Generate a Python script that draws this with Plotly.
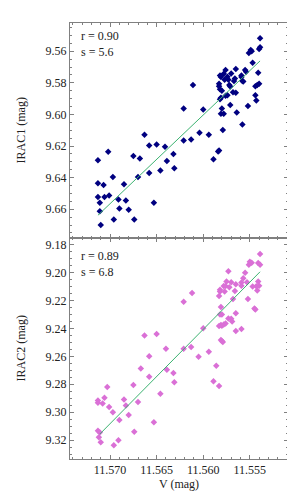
import plotly.graph_objects as go
from plotly.subplots import make_subplots

# ---- IRAC1 panel data ----
v1 = [11.5539, 11.5539, 11.5540, 11.5551, 11.5549, 11.5548, 11.5547, 11.5541, 11.5576, 11.5565,
      11.5555, 11.5554, 11.5582, 11.5581, 11.5578, 11.5574, 11.5570, 11.5559, 11.5559, 11.5577,
      11.5573, 11.5566, 11.5567, 11.5558, 11.5557, 11.5583, 11.5583, 11.5572, 11.5571, 11.5611,
      11.5540, 11.5542, 11.5544, 11.5582, 11.5580, 11.5574, 11.5576, 11.5568, 11.5565, 11.5544,
      11.5581, 11.5582, 11.5543, 11.5571, 11.5552, 11.5621, 11.5600, 11.5580, 11.5581, 11.5578,
      11.5564, 11.5558, 11.5579, 11.5594, 11.5604, 11.5613, 11.5621, 11.5663, 11.5650, 11.5658,
      11.5641, 11.5702, 11.5713, 11.5675, 11.5668, 11.5632, 11.5639, 11.5583, 11.5584, 11.5589,
      11.5631, 11.5646, 11.5658, 11.5670, 11.5697, 11.5713, 11.5707, 11.5685, 11.5713, 11.5706,
      11.5701, 11.5711, 11.5691, 11.5683, 11.5653, 11.5690, 11.5680, 11.5711, 11.5696, 11.5674,
      11.5710]
irac1 = [9.5517, 9.5575, 9.5586, 9.5611, 9.5592, 9.5600, 9.5673, 9.5736, 9.5719, 9.5713,
         9.5719, 9.5729, 9.5754, 9.5763, 9.5742, 9.5761, 9.5740, 9.5753, 9.5763, 9.5781,
         9.5781, 9.5773, 9.5788, 9.5788, 9.5792, 9.5806, 9.5821, 9.5813, 9.5823, 9.5813,
         9.5806, 9.5813, 9.5821, 9.5840, 9.5850, 9.5878, 9.5881, 9.5859, 9.5863, 9.5878,
         9.5894, 9.5904, 9.5911, 9.5940, 9.5946, 9.5963, 9.5969, 9.5963, 9.5996, 9.5996,
         9.5988, 9.6063, 9.6098, 9.6129, 9.6115, 9.6159, 9.6165, 9.6129, 9.6190, 9.6196,
         9.6204, 9.6236, 9.6290, 9.6263, 9.6279, 9.6250, 9.6294, 9.6228, 9.6234, 9.6284,
         9.6340, 9.6354, 9.6371, 9.6396, 9.6396, 9.6436, 9.6446, 9.6442, 9.6523, 9.6523,
         9.6513, 9.6559, 9.6538, 9.6544, 9.6559, 9.6596, 9.6604, 9.6613, 9.6665, 9.6665,
         9.6700]
fit1_v = [11.5713, 11.5539]
fit1_y = [9.6638, 9.5661]

# ---- IRAC2 panel data ----
v2 = [11.5539, 11.5550, 11.5548, 11.5551, 11.5541, 11.5539, 11.5573, 11.5555, 11.5557, 11.5575,
      11.5570, 11.5565, 11.5578, 11.5576, 11.5572, 11.5559, 11.5559, 11.5553, 11.5541, 11.5547,
      11.5543, 11.5540, 11.5542, 11.5582, 11.5582, 11.5577, 11.5566, 11.5583, 11.5612, 11.5552,
      11.5568, 11.5621, 11.5581, 11.5545, 11.5544, 11.5565, 11.5582, 11.5580, 11.5573, 11.5570,
      11.5569, 11.5581, 11.5580, 11.5578, 11.5576, 11.5583, 11.5565, 11.5559, 11.5600, 11.5581,
      11.5580, 11.5579, 11.5663, 11.5650, 11.5640, 11.5658, 11.5621, 11.5613, 11.5605, 11.5594,
      11.5667, 11.5639, 11.5632, 11.5658, 11.5631, 11.5675, 11.5703, 11.5646, 11.5706, 11.5713,
      11.5713, 11.5708, 11.5685, 11.5683, 11.5670, 11.5701, 11.5697, 11.5680, 11.5690, 11.5653,
      11.5713, 11.5711, 11.5712, 11.5674, 11.5710, 11.5691, 11.5696, 11.5586, 11.5589, 11.5583]
irac2 = [9.1869, 9.1925, 9.1932, 9.1946, 9.1934, 9.1946, 9.1993, 9.2003, 9.2042, 9.2066,
         9.2071, 9.2085, 9.2097, 9.2097, 9.2106, 9.2073, 9.2095, 9.2071, 9.2066, 9.2102,
         9.2099, 9.2095, 9.2130, 9.2125, 9.2137, 9.2137, 9.2134, 9.2169, 9.2148, 9.2191,
         9.2191, 9.2210, 9.2247, 9.2259, 9.2266, 9.2292, 9.2301, 9.2301, 9.2330, 9.2332,
         9.2351, 9.2377, 9.2381, 9.2372, 9.2365, 9.2384, 9.2419, 9.2405, 9.2400, 9.2483,
         9.2490, 9.2497, 9.2452, 9.2440, 9.2546, 9.2600, 9.2546, 9.2534, 9.2603, 9.2568,
         9.2688, 9.2697, 9.2720, 9.2746, 9.2786, 9.2805, 9.2819, 9.2868, 9.2896, 9.2916,
         9.2932, 9.2937, 9.2908, 9.2951, 9.2927, 9.2963, 9.3000, 9.3019, 9.3055, 9.3071,
         9.3132, 9.3144, 9.3179, 9.3139, 9.3214, 9.3200, 9.3235, 9.2668, 9.2779, 9.2812]
fit2_v = [11.5711, 11.5539]
fit2_y = [9.3156, 9.1996]

stats1 = ["r = 0.90", "s = 5.6"]
stats2 = ["r = 0.89", "s = 6.8"]

FONT = "Liberation Serif"
AX = "#808080"
TXT = "#222"

fig = make_subplots(rows=2, cols=1, shared_xaxes=True, vertical_spacing=0)

fig.add_trace(go.Scatter(x=v1, y=irac1, mode="markers",
                         marker=dict(symbol="diamond", size=5, color="#000080"),
                         showlegend=False), row=1, col=1)
fig.add_trace(go.Scatter(x=fit1_v, y=fit1_y, mode="lines",
                         line=dict(color="#3CB371", width=1), showlegend=False), row=1, col=1)
fig.add_trace(go.Scatter(x=v2, y=irac2, mode="markers",
                         marker=dict(symbol="diamond", size=5, color="#DA70D6"),
                         showlegend=False), row=2, col=1)
fig.add_trace(go.Scatter(x=fit2_v, y=fit2_y, mode="lines",
                         line=dict(color="#3CB371", width=1), showlegend=False), row=2, col=1)

common = dict(showline=True, linecolor=AX, linewidth=1, mirror="allticks",
              ticks="inside", ticklen=4, tickcolor=AX, showgrid=False, zeroline=False,
              tickfont=dict(family=FONT, size=12, color=TXT))

fig.update_xaxes(range=[11.5743, 11.5509], dtick=0.005, tickformat=".3f",
                 minor=dict(ticks="inside", dtick=0.001, ticklen=2, tickcolor=AX),
                 **common)
fig.update_xaxes(showticklabels=False, row=1, col=1)
fig.update_xaxes(title=dict(text="V (mag)", font=dict(family=FONT, size=12, color=TXT),
                            standoff=2), row=2, col=1)

fig.update_yaxes(range=[9.6779, 9.5421], dtick=0.02, tickformat=".2f",
                 minor=dict(ticks="inside", dtick=0.005, ticklen=2, tickcolor=AX),
                 title=dict(text="IRAC1 (mag)", font=dict(family=FONT, size=12, color=TXT),
                            standoff=17),
                 domain=[0.508, 1.0], row=1, col=1, **common)
fig.update_yaxes(range=[9.3334, 9.1751], tick0=9.18, dtick=0.02, tickformat=".2f",
                 minor=dict(ticks="inside", dtick=0.005, ticklen=2, tickcolor=AX),
                 title=dict(text="IRAC2 (mag)", font=dict(family=FONT, size=12, color=TXT),
                            standoff=17),
                 domain=[0.0, 0.508], row=2, col=1, **common)

fig.add_annotation(xref="x domain", yref="y domain", x=0.04, y=0.98,
                   text="<br>".join(stats1), showarrow=False, align="left",
                   xanchor="left", yanchor="top",
                   font=dict(family=FONT, size=12, color=TXT))
fig.add_annotation(xref="x2 domain", yref="y2 domain", x=0.04, y=0.958,
                   text="<br>".join(stats2), showarrow=False, align="left",
                   xanchor="left", yanchor="top",
                   font=dict(family=FONT, size=12, color=TXT))

fig.update_layout(width=295, height=492, margin=dict(l=44, r=15, t=15, b=35),
                  paper_bgcolor="white", plot_bgcolor="white",
                  font=dict(family=FONT, size=12, color=TXT))

fig.write_html("out.html")
